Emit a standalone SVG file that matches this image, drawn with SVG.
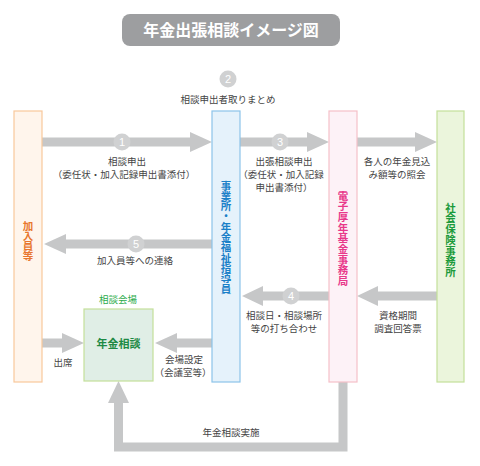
<svg xmlns="http://www.w3.org/2000/svg" width="480" height="466" viewBox="0 0 480 466">
<style>
.lbl{font-family:"Noto Sans CJK JP","Noto Sans CJK SC",sans-serif;font-size:9.5px;fill:#444;text-anchor:middle}
.arr{fill:#c6c7c8}
.num{fill:#d0d1d2}
.numt{font-family:"Liberation Sans",sans-serif;font-size:11px;fill:#fff;text-anchor:middle}
.col{font-family:"Noto Sans CJK JP","Noto Sans CJK SC",sans-serif;font-size:10.5px;font-weight:bold;text-anchor:middle;writing-mode:vertical-rl}
</style>
<rect width="480" height="466" fill="#fff"/>
<g id="title">
<rect x="122" y="14" width="218" height="32" rx="8" fill="#9d9ea0"/>
<text x="231" y="36" font-family="'Noto Sans CJK JP','Noto Sans CJK SC',sans-serif" font-size="16" font-weight="bold" fill="#fff" text-anchor="middle">年金出張相談イメージ図</text>
</g>
<g id="connectors">
<polygon class="arr" points="42,137.5 190,137.5 190,132 212,142 190,152 190,146.5 42,146.5"/>
<polygon class="arr" points="240,137.5 307,137.5 307,132 329,142 307,152 307,146.5 240,146.5"/>
<polygon class="arr" points="357,137.5 415,137.5 415,132 437,142 415,152 415,146.5 357,146.5"/>
<polygon class="arr" points="212,239.5 66,239.5 66,234 44,244 66,254 66,248.5 212,248.5"/>
<polygon class="arr" points="329,291.5 263,291.5 263,286 242,296 263,306 263,300.5 329,300.5"/>
<polygon class="arr" points="437,291.5 378,291.5 378,286 357,296 378,306 378,300.5 437,300.5"/>
<polygon class="arr" points="42,338.5 62,338.5 62,333 84,343 62,353 62,347.5 42,347.5"/>
<polygon class="arr" points="212,338.5 177,338.5 177,333 155,343 177,353 177,347.5 212,347.5"/>
<path d="M343,382 V447 H118.5 V402" fill="none" stroke="#c6c7c8" stroke-width="9"/>
<polygon class="arr" points="108,403 118.5,381 129,403"/>
<circle class="num" cx="122" cy="142" r="8.5"/><text class="numt" x="122" y="146">1</text>
<circle class="num" cx="228" cy="79" r="8.5"/><text class="numt" x="228" y="83">2</text>
<circle class="num" cx="280" cy="142" r="8.5"/><text class="numt" x="280" y="146">3</text>
<circle class="num" cx="291" cy="296" r="8.5"/><text class="numt" x="291" y="300">4</text>
<circle class="num" cx="136" cy="244" r="8.5"/><text class="numt" x="136" y="248">5</text>
<text class="lbl" x="228" y="103">相談申出者取りまとめ</text>
<text class="lbl" x="127" y="165">相談申出</text>
<text class="lbl" x="124" y="178">（委任状・加入記録申出書添付）</text>
<text class="lbl" x="284" y="165">出張相談申出</text>
<text class="lbl" x="281" y="178">（委任状・加入記録</text>
<text class="lbl" x="284" y="191">申出書添付）</text>
<text class="lbl" x="397" y="165">各人の年金見込</text>
<text class="lbl" x="397" y="178">み額等の照会</text>
<text class="lbl" x="135" y="264">加入員等への連絡</text>
<text class="lbl" x="284" y="319">相談日・相談場所</text>
<text class="lbl" x="284" y="332">等の打ち合わせ</text>
<text class="lbl" x="398" y="319">資格期間</text>
<text class="lbl" x="398" y="332">調査回答票</text>
<text class="lbl" x="63" y="366">出席</text>
<text class="lbl" x="184" y="363">会場設定</text>
<text class="lbl" x="183" y="376">（会議室等）</text>
<text class="lbl" x="231" y="436">年金相談実施</text>
</g>
<g id="n-kanyuin">
<rect x="14" y="111" width="28" height="271" fill="#fff5ec" stroke="#f8c89c" stroke-width="1.2"/>
<text class="col" fill="#e8772e" x="28" y="241" letter-spacing="-0.3">加入員等</text>
</g>
<g id="n-jigyosho">
<rect x="212" y="111" width="28" height="271" fill="#e5f2fb" stroke="#8cc4ea" stroke-width="1.2"/>
<text class="col" fill="#1a80c8" x="226" y="237" letter-spacing="-0.2">事業所・年金福祉指導員</text>
</g>
<g id="n-kikin">
<rect x="329" y="111" width="28" height="271" fill="#fdf2f7" stroke="#f5c0c8" stroke-width="1.2"/>
<text class="col" fill="#e8388a" x="343" y="238.5" letter-spacing="0.2">電子厚年基金事務局</text>
</g>
<g id="n-shakai">
<rect x="437" y="111" width="27" height="271" fill="#ebf5dc" stroke="#c3e09a" stroke-width="1.2"/>
<text class="col" fill="#1a9a3a" x="450.5" y="240" letter-spacing="0.2">社会保険事務所</text>
</g>
<g id="n-soudan">
<text x="118" y="303" font-family="'Noto Sans CJK JP','Noto Sans CJK SC',sans-serif" font-size="9.5" fill="#2aab4a" text-anchor="middle">相談会場</text>
<rect x="84" y="309" width="69" height="72" fill="#e0eee6" stroke="#c3e09a" stroke-width="1.2"/>
<text x="118.5" y="348" font-family="'Noto Sans CJK JP','Noto Sans CJK SC',sans-serif" font-size="11" font-weight="bold" fill="#1e8a44" text-anchor="middle">年金相談</text>
</g>
</svg>
